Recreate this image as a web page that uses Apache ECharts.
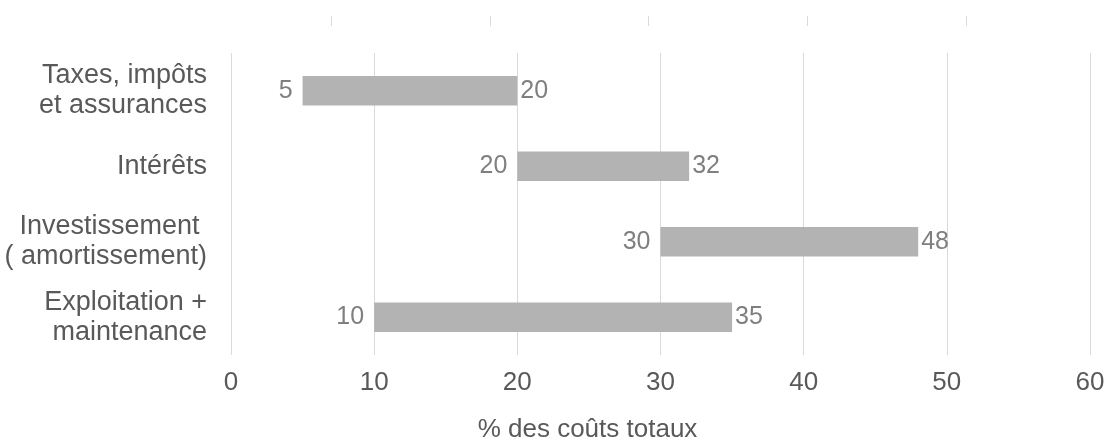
<!DOCTYPE html>
<html>
<head>
<meta charset="utf-8">
<script src="https://cdn.jsdelivr.net/npm/echarts@6/dist/echarts.min.js"></script>
<style>
  html, body { margin: 0; padding: 0; background: #fff; }
  #chart { width: 1107px; height: 439px; }
</style>
</head>
<body>
<div id="chart"></div>
<script>
// Cost components, listed bottom to top as the category axis draws them
var categories = [
  'Exploitation +\nmaintenance',
  'Investissement \n( amortissement)',
  'Intérêts',
  'Taxes, impôts\net assurances'
];
var rangeLow = [10, 30, 20, 5];
var rangeHigh = [35, 48, 32, 20];
var xTicks = [0, 10, 20, 30, 40, 50, 60];

var spans = rangeHigh.map(function (h, i) { return h - rangeLow[i]; });

var FONT = 'Liberation Sans, Arial, sans-serif';

var chart = echarts.init(document.getElementById('chart'), null, { renderer: 'canvas' });
chart.setOption({
  animation: false,
  backgroundColor: '#ffffff',
  grid: [
    { left: 231, right: 17, top: 53, bottom: 84, containLabel: false, outerBoundsMode: 'none' },
    // short rule strip along the top edge
    { left: 331, width: 635, top: 16, height: 10, containLabel: false, outerBoundsMode: 'none' }
  ],
  xAxis: [
    {
      type: 'value',
      gridIndex: 0,
      min: xTicks[0],
      max: xTicks[xTicks.length - 1],
      interval: 10,
      name: '% des coûts totaux',
      nameLocation: 'middle',
      nameGap: 62,
      nameTextStyle: { fontFamily: FONT, fontSize: 26, color: '#595959', padding: [0, 146, 0, 0] },
      axisLine: { show: false },
      axisTick: { show: false },
      axisLabel: { fontFamily: FONT, fontSize: 26, color: '#595959', margin: 15 },
      splitLine: { show: true, lineStyle: { color: '#d9d9d9', width: 1 } }
    },
    {
      type: 'value',
      gridIndex: 1,
      min: 0,
      max: 4,
      interval: 1,
      axisLine: { show: false },
      axisTick: { show: false },
      axisLabel: { show: false },
      splitLine: { show: true, lineStyle: { color: '#d9d9d9', width: 1 } }
    }
  ],
  yAxis: [
    {
      type: 'category',
      gridIndex: 0,
      data: categories,
      axisLine: { show: false },
      axisTick: { show: false },
      axisLabel: { fontFamily: FONT, fontSize: 27, color: '#595959', margin: 24, lineHeight: 30, align: 'right' }
    },
    {
      type: 'value',
      gridIndex: 1,
      show: false
    }
  ],
  series: [
    {
      name: 'début',
      type: 'bar',
      stack: 'range',
      data: rangeLow,
      barWidth: '39%',
      itemStyle: { color: 'transparent' },
      label: {
        show: true,
        position: 'insideRight',
        distance: 10,
        fontFamily: FONT,
        fontSize: 25,
        color: '#7f7f7f'
      },
      silent: true
    },
    {
      name: 'part',
      type: 'bar',
      stack: 'range',
      data: spans,
      barWidth: '39%',
      itemStyle: { color: '#b3b3b3' },
      label: {
        show: true,
        position: 'right',
        distance: 3,
        fontFamily: FONT,
        fontSize: 25,
        color: '#7f7f7f',
        formatter: function (p) { return rangeHigh[p.dataIndex]; }
      }
    }
  ]
});
</script>
</body>
</html>
